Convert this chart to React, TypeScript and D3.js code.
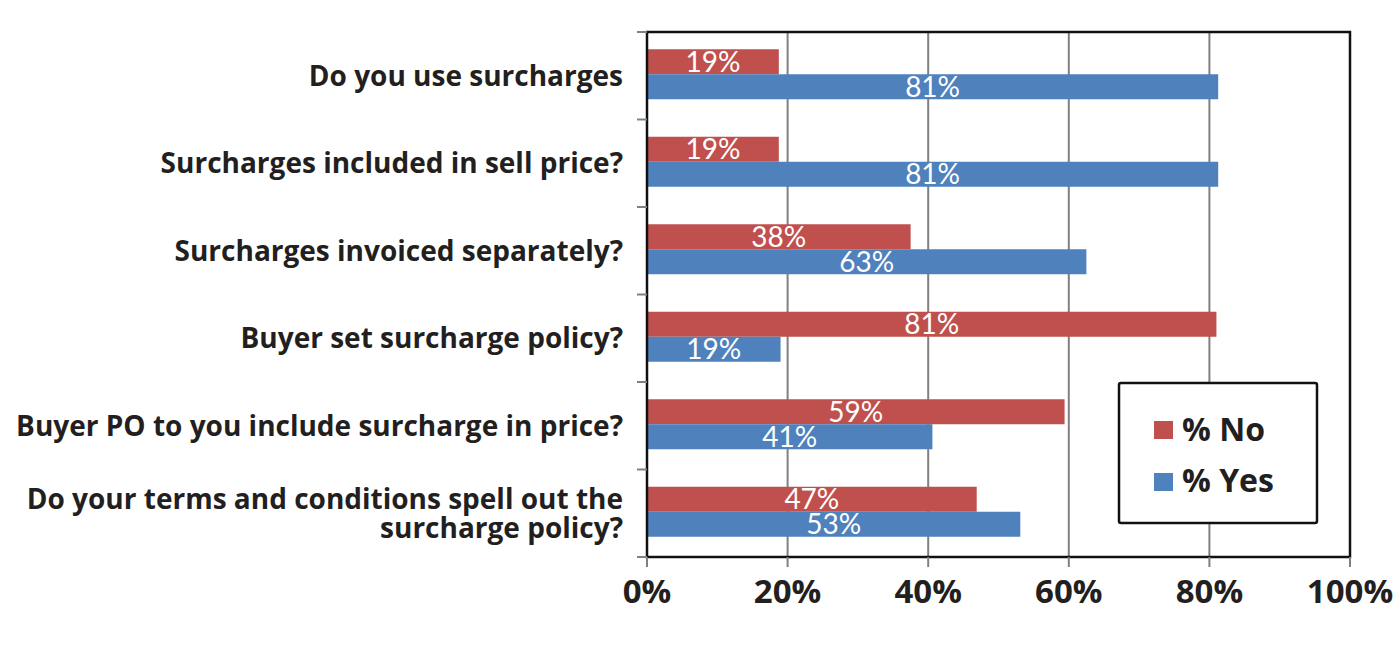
import React from "react";
import * as d3 from "d3";

const categories: string[][] = [
  ["Do you use surcharges"],
  ["Surcharges included in sell price?"],
  ["Surcharges invoiced separately?"],
  ["Buyer set surcharge policy?"],
  ["Buyer PO to you include surcharge in price?"],
  ["Do your terms and conditions spell out the", "surcharge policy?"],
];
const noValues = [18.75, 18.75, 37.5, 81, 59.4, 46.9];
const yesValues = [81.25, 81.25, 62.5, 19, 40.6, 53.1];
const xTicks = [0, 20, 40, 60, 80, 100];
const seriesNames = ["% No", "% Yes"];
const colors = ["#C0504D", "#4F81BD"];

const W = 1400;
const H = 659;
const left = 647;
const right = 1350;
const top = 32;
const bottom = 557;

export default function App() {
  const x = d3.scaleLinear().domain([0, 100]).range([left, right]);
  const y = d3
    .scaleBand<number>()
    .domain(d3.range(categories.length))
    .range([top, bottom]);
  const bw = y.bandwidth();
  const barH = 25;
  const series = [noValues, yesValues];
  const labelFont = "'Open Sans', 'DejaVu Sans', sans-serif";
  const barFont = "Lato, 'Open Sans', sans-serif";

  return (
    <svg
      width={W}
      height={H}
      style={{ position: "absolute", left: 0, top: 0, background: "#fff" }}
    >
      {/* gridlines */}
      {xTicks.slice(1, -1).map((t) => (
        <line key={"g" + t} x1={x(t)} x2={x(t)} y1={top} y2={bottom} stroke="#808080" strokeWidth={2} />
      ))}
      {/* bars */}
      {categories.map((c, i) =>
        series.map((vals, s) => {
          const y0 = (y(i) as number) + bw / 2 - 26.5 + s * barH;
          return (
            <g key={`b${i}-${s}`}>
              <rect x={x(0)} y={y0} width={x(vals[i]) - x(0)} height={barH} fill={colors[s]} />
              <text
                x={(x(0) + x(vals[i])) / 2}
                y={y0 + barH / 2 + 10}
                textAnchor="middle"
                fill="#fff"
                fontFamily={barFont}
                fontSize={28}
              >
                {Math.round(vals[i])}%
              </text>
            </g>
          );
        })
      )}
      {/* frame */}
      <rect x={left} y={top} width={right - left} height={bottom - top} fill="none" stroke="#111" strokeWidth={2.5} />
      {/* left ticks */}
      {d3.range(categories.length + 1).map((i) => {
        const yy = top + i * bw;
        return <line key={"lt" + i} x1={left - 10} x2={left} y1={yy} y2={yy} stroke="#808080" strokeWidth={2} />;
      })}
      {/* bottom ticks and labels */}
      {xTicks.map((t) => (
        <g key={"xt" + t}>
          <line x1={x(t)} x2={x(t)} y1={bottom} y2={bottom + 10} stroke="#808080" strokeWidth={2} />
          <text
            x={x(t)}
            y={603}
            textAnchor="middle"
            fontFamily={labelFont}
            fontWeight={700}
            fontSize={33}
            fill="#231f20"
          >
            {t}%
          </text>
        </g>
      ))}
      {/* category labels */}
      {categories.map((lines, i) => {
        const cy = (y(i) as number) + bw / 2;
        const lh = 29;
        return (
          <text
            key={"cl" + i}
            textAnchor="end"
            fontFamily={labelFont}
            fontWeight={700}
            fontSize={28}
            fill="#231f20"
          >
            {lines.map((l, k) => (
              <tspan key={k} x={623} y={cy + 10 + (k - (lines.length - 1) / 2) * lh}>
                {l}
              </tspan>
            ))}
          </text>
        );
      })}
      {/* legend */}
      <rect x={1119} y={383} width={198} height={140} rx={2} fill="#fff" stroke="#111" strokeWidth={2.5} />
      {seriesNames.map((n, s) => (
        <g key={"lg" + s}>
          <rect x={1154} y={421 + s * 52} width={19} height={18} fill={colors[s]} />
          <text
            x={1182}
            y={441 + s * 51}
            fontFamily={labelFont}
            fontWeight={700}
            fontSize={32}
            fill="#231f20"
          >
            {n}
          </text>
        </g>
      ))}
    </svg>
  );
}
